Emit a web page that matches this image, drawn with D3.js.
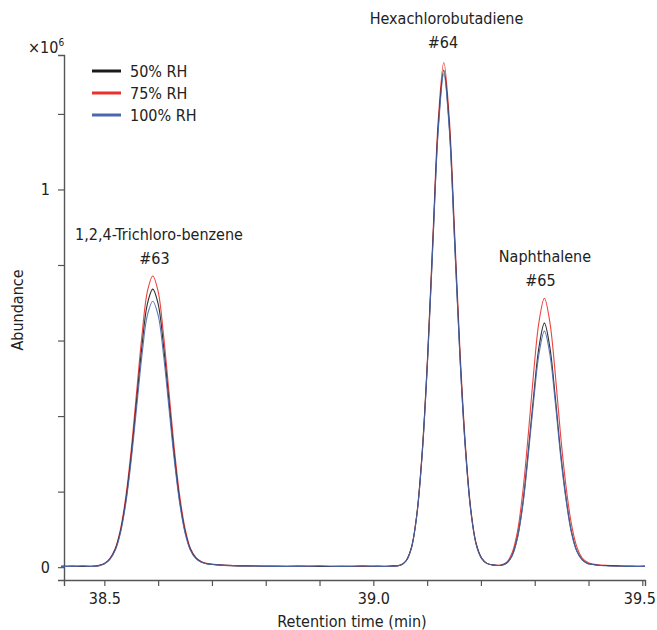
<!DOCTYPE html>
<html><head><meta charset="utf-8">
<script src="https://cdn.jsdelivr.net/npm/d3@7"></script>
<style>
html,body{margin:0;padding:0;background:#fff;}
text{font-family:"Liberation Sans Narrow","DejaVu Sans Condensed","Roboto Condensed",sans-serif;font-stretch:condensed;fill:#222;}
</style></head>
<body><svg id="c" width="657" height="630"></svg>
<script>
// Retention time (min)
const times = [38.42, 38.44, 38.46, 38.48,
 38.49, 38.50, 38.51, 38.52, 38.53, 38.54, 38.55, 38.56, 38.57, 38.58, 38.59, 38.60, 38.61, 38.62, 38.63, 38.64, 38.65, 38.66, 38.67, 38.68, 38.69,
 38.71, 38.74, 38.78, 38.82, 38.86, 38.90, 38.94, 38.98, 39.01, 39.03,
 39.051, 39.061, 39.071, 39.081, 39.091, 39.101, 39.111, 39.121, 39.131, 39.141, 39.151, 39.161, 39.171, 39.181, 39.191, 39.201, 39.211, 39.221,
 39.238, 39.248, 39.258, 39.268, 39.278, 39.288, 39.298, 39.308, 39.318, 39.328, 39.338, 39.348, 39.358, 39.368, 39.378, 39.388, 39.398, 39.408, 39.418,
 39.44, 39.46, 39.48, 39.505];
// Abundance (x10^6)
const rh50 = [0.002, 0.003, 0.002, 0.003,
 0.004, 0.009, 0.021, 0.046, 0.095, 0.177, 0.296, 0.441, 0.586, 0.697, 0.736, 0.697, 0.586, 0.441, 0.296, 0.177, 0.095, 0.047, 0.024, 0.014, 0.009,
 0.006, 0.004, 0.003, 0.002, 0.003, 0.002, 0.002, 0.003, 0.002, 0.003,
 0.006, 0.017, 0.052, 0.140, 0.305, 0.555, 0.871, 1.173, 1.316, 1.173, 0.871, 0.560, 0.318, 0.152, 0.062, 0.024, 0.010, 0.006,
 0.005, 0.011, 0.031, 0.080, 0.170, 0.306, 0.454, 0.583, 0.646, 0.583, 0.454, 0.306, 0.186, 0.096, 0.044, 0.020, 0.010, 0.007, 0.005,
 0.004, 0.003, 0.002, 0.003];
const rh75 = [0.003, 0.002, 0.003, 0.002,
 0.005, 0.010, 0.023, 0.049, 0.101, 0.188, 0.312, 0.464, 0.615, 0.730, 0.771, 0.730, 0.615, 0.466, 0.315, 0.190, 0.103, 0.050, 0.026, 0.015, 0.010,
 0.007, 0.004, 0.003, 0.003, 0.002, 0.003, 0.002, 0.002, 0.003, 0.002,
 0.006, 0.017, 0.053, 0.142, 0.309, 0.563, 0.884, 1.191, 1.336, 1.193, 0.890, 0.577, 0.327, 0.157, 0.064, 0.025, 0.010, 0.006,
 0.006, 0.013, 0.038, 0.095, 0.201, 0.351, 0.515, 0.650, 0.712, 0.650, 0.515, 0.351, 0.216, 0.116, 0.055, 0.025, 0.013, 0.008, 0.006,
 0.004, 0.003, 0.003, 0.002];
const rh100 = [0.002, 0.002, 0.003, 0.002,
 0.004, 0.009, 0.020, 0.044, 0.091, 0.170, 0.284, 0.423, 0.562, 0.667, 0.704, 0.667, 0.562, 0.423, 0.284, 0.170, 0.091, 0.045, 0.023, 0.013, 0.009,
 0.006, 0.004, 0.003, 0.002, 0.002, 0.003, 0.002, 0.003, 0.002, 0.002,
 0.006, 0.017, 0.052, 0.139, 0.302, 0.551, 0.864, 1.164, 1.306, 1.164, 0.864, 0.556, 0.315, 0.151, 0.061, 0.024, 0.010, 0.006,
 0.005, 0.011, 0.030, 0.077, 0.165, 0.296, 0.440, 0.565, 0.625, 0.565, 0.440, 0.296, 0.180, 0.093, 0.043, 0.020, 0.010, 0.007, 0.005,
 0.003, 0.003, 0.002, 0.002];
const seriesNames = ["50% RH", "75% RH", "100% RH"];
const seriesColors = ["#1a1a1a", "#e8312b", "#4a68b0"];
const xTicks = [38.5, 38.6, 38.7, 38.8, 38.9, 39.0, 39.1, 39.2, 39.3, 39.4, 39.5];
const xTickLabels = {"38.5":"38.5", "39":"39.0", "39.5":"39.5"};
const yTicks = [0, 0.2, 0.4, 0.6, 0.8, 1.0, 1.2];
const yTickLabels = {"0":"0", "1":"1"};
const peakNames = ["1,2,4-Trichloro-benzene", "Hexachlorobutadiene", "Naphthalene"];
const peakIds = ["#63", "#64", "#65"];
const peakNameTimes = [38.6016, 39.136, 39.319];
const peakIdTimes = [38.5932, 39.1295, 39.3107];
const peakLabelValues = [0.865, 1.437, 0.808];

const svg = d3.select("#c");
const x = d3.scaleLinear().domain([38.425, 39.505]).range([64, 645]);
const y = d3.scaleLinear().domain([-0.034, 1.356]).range([580, 55]);

const axisColor = "#555";
// x axis
const xa = svg.append("g").attr("transform","translate(0,580)")
  .call(d3.axisBottom(x).tickValues(xTicks).tickSizeOuter(0).tickSize(6).tickPadding(7)
    .tickFormat(d => xTickLabels[String(d)] || ""));
xa.select(".domain").attr("stroke",axisColor).attr("stroke-width",1.4);
xa.selectAll(".tick line").attr("stroke",axisColor).attr("stroke-width",1.2);
xa.selectAll(".tick text").style("font-size","16px").attr("fill","#222");
xa.selectAll(".tick text").filter(d => d === 39.5).attr("dx", -3);
// y axis
const ya = svg.append("g").attr("transform","translate(64,0)")
  .call(d3.axisLeft(y).tickValues(yTicks).tickSizeOuter(0).tickSize(6).tickPadding(8)
    .tickFormat(d => yTickLabels[String(d)] || ""));
ya.select(".domain").attr("stroke",axisColor).attr("stroke-width",1.4);
ya.selectAll(".tick line").attr("stroke",axisColor).attr("stroke-width",1.2);
ya.selectAll(".tick text").style("font-size","16px").attr("fill","#222");

// axis titles
svg.append("text").attr("x",352).attr("y",627).attr("text-anchor","middle").style("font-size","16px").text("Retention time (min)");
svg.append("text").attr("transform","translate(23,310) rotate(-90)").attr("text-anchor","middle").style("font-size","16px").text("Abundance");
const mult = svg.append("text").attr("x",28).attr("y",53).style("font-size","16px");
mult.append("tspan").text("×10");
mult.append("tspan").attr("dy",-7).style("font-size","10px").text("6");

// lines
const line = d3.line().x((d,i)=>x(times[i])).y(d=>y(d)).curve(d3.curveCatmullRom.alpha(0.5));
const data = [rh75, rh50, rh100];
const cols = [seriesColors[1], seriesColors[0], seriesColors[2]];
data.forEach((s,k)=>{
  svg.append("path").datum(s).attr("d",line).attr("fill","none")
    .attr("stroke",cols[k]).attr("stroke-width",1.1).attr("stroke-opacity",0.9);
});

// peak labels
peakNames.forEach((n,i)=>{
  const yy = y(peakLabelValues[i]);
  svg.append("text").attr("x",x(peakNameTimes[i])).attr("y",yy).attr("text-anchor","middle").style("font-size","16px").text(n);
  svg.append("text").attr("x",x(peakIdTimes[i])).attr("y",yy+24).attr("text-anchor","middle").style("font-size","16px").text(peakIds[i]);
});

// legend
seriesNames.forEach((n,i)=>{
  const ly = 71 + i*22;
  svg.append("line").attr("x1",92).attr("x2",121).attr("y1",ly).attr("y2",ly)
    .attr("stroke",seriesColors[i]).attr("stroke-width",3);
  svg.append("text").attr("x",130).attr("y",ly+6).style("font-size","16px").text(n);
});
</script></body></html>
